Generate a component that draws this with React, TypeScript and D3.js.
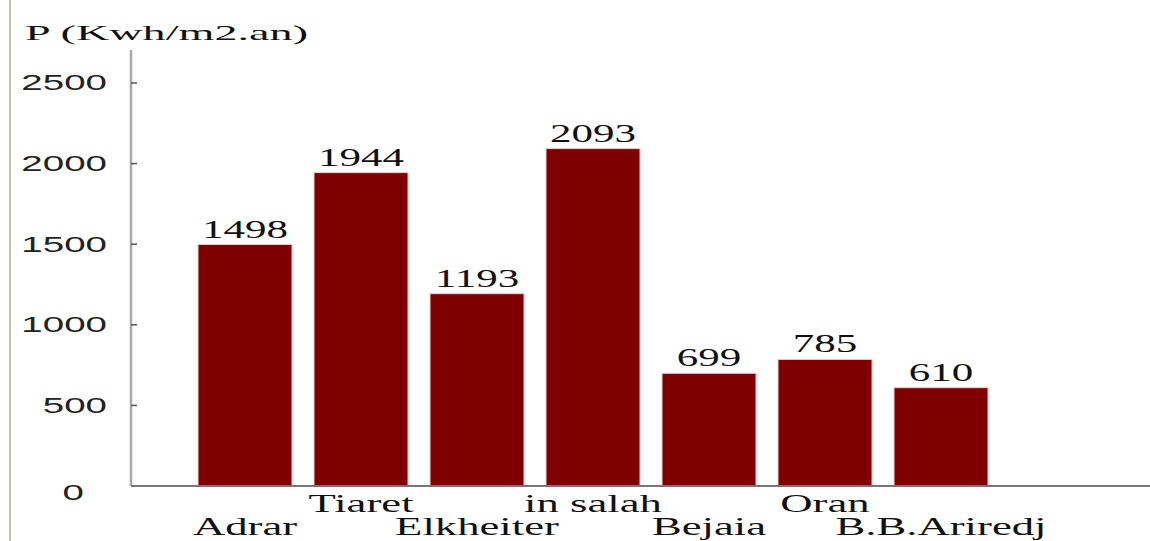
import React from "react";
import * as d3 from "d3";

const categories = ["Adrar", "Tiaret", "Elkheiter", "in salah", "Bejaia", "Oran", "B.B.Ariredj"];
const values = [1498, 1944, 1193, 2093, 699, 785, 610];
const yTicks = [0, 500, 1000, 1500, 2000, 2500];
const yTitle = "P (Kwh/m2.an)";

const W = 1150;
const H = 541;

export default function App() {
  const x = d3
    .scaleBand<string>()
    .domain(categories)
    .range([187, 999])
    .paddingInner(0.19)
    .paddingOuter(0.095);
  const y = d3.scaleLinear().domain([0, 2500]).range([486, 83]);
  const stretch = 1.72;

  return (
    <svg
      width={W}
      height={H}
      style={{ position: "absolute", left: 0, top: 0, background: "#fff" }}
    >
      <rect x={0} y={0} width={W} height={H} fill="#ffffff" />
      {/* left frame line */}
      <line x1={10} x2={10} y1={0} y2={H} stroke="#c4c4ac" strokeWidth={2} />

      {/* title */}
      <text
        transform={`translate(25,40) scale(2.1,1)`}
        fontFamily="Liberation Serif, Times New Roman, serif"
        fontSize={22}
        fill="#111"
      >
        {yTitle}
      </text>

      {/* y axis */}
      <line x1={131} x2={131} y1={50} y2={y(0)} stroke="#a8a8a8" strokeWidth={2.5} />
      {yTicks.map((t) => (
        <g key={t}>
          {t > 0 && (
            <line x1={131} x2={137} y1={y(t)} y2={y(t)} stroke="#555" strokeWidth={1.5} />
          )}
          <text
            transform={`translate(${t === 0 ? 84 : 107},${t === 0 ? y(t) + 7 : y(t)}) scale(1.75,1)`}
            textAnchor="end"
            dominantBaseline="central"
            fontFamily="Liberation Sans, Arial, sans-serif"
            fontSize={22}
            fill="#222"
          >
            {t}
          </text>
        </g>
      ))}

      {/* bars */}
      {categories.map((c, i) => (
        <rect
          key={c}
          x={x(c)}
          y={y(values[i])}
          width={x.bandwidth()}
          height={y(0) - y(values[i])}
          fill="#800000"
          stroke="#f0c8c8"
          strokeWidth={1}
        />
      ))}

      {/* value labels */}
      {categories.map((c, i) => (
        <text
          key={c + "v"}
          transform={`translate(${(x(c) as number) + x.bandwidth() / 2},${y(values[i]) - 7}) scale(${stretch},1)`}
          textAnchor="middle"
          fontFamily="Liberation Serif, Times New Roman, serif"
          fontSize={25}
          fill="#111"
        >
          {values[i]}
        </text>
      ))}

      {/* x axis */}
      <line x1={131} x2={W} y1={y(0)} y2={y(0)} stroke="#777" strokeWidth={2} />

      {/* category labels, alternating rows */}
      {categories.map((c, i) => (
        <text
          key={c + "c"}
          transform={`translate(${(x(c) as number) + x.bandwidth() / 2},${i % 2 === 1 ? 512 : 535}) scale(${stretch},1)`}
          textAnchor="middle"
          fontFamily="Liberation Serif, Times New Roman, serif"
          fontSize={26}
          fill="#111"
        >
          {c}
        </text>
      ))}
    </svg>
  );
}
